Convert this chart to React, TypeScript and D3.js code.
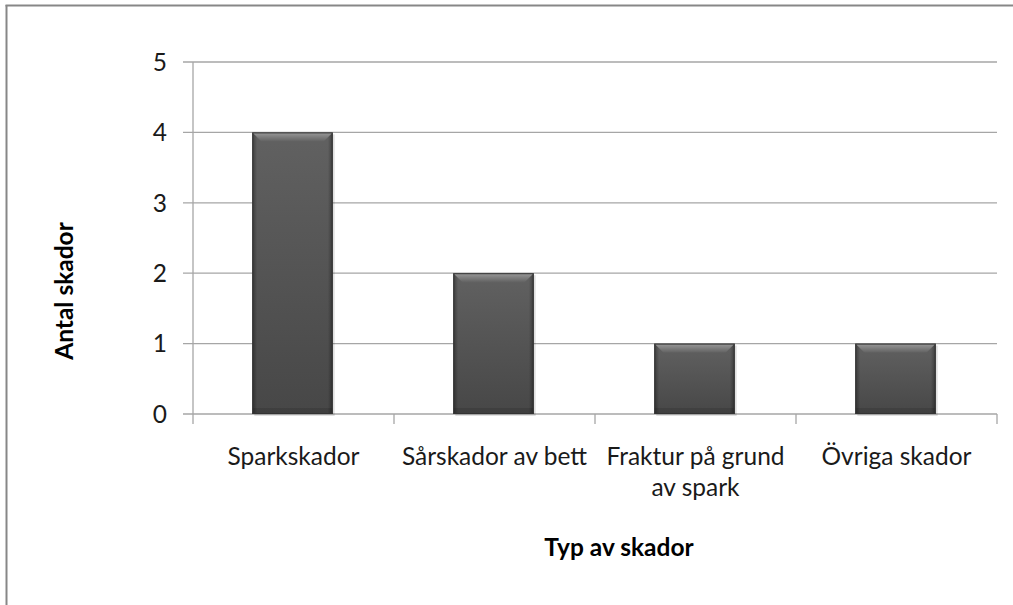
import React from "react";
import * as d3 from "d3";

// injury types and counts
const categories = ["Sparkskador", "Sårskador av bett", "Fraktur på grund av spark", "Övriga skador"];
const labelLines = [["Sparkskador"], ["Sårskador av bett"], ["Fraktur på grund", "av spark"], ["Övriga skador"]];
const counts = [4, 2, 1, 1];
const yTicks = [0, 1, 2, 3, 4, 5];

const W = 1013, H = 605;
const margin = { left: 193, right: 16, top: 62, bottom: 191 };
const FONT = "Lato, 'Open Sans', sans-serif";
const FS = 24.5;

export default function App() {
  const x = d3.scaleBand().domain(categories).range([margin.left, W - margin.right]).paddingInner(0).paddingOuter(0);
  const y = d3.scaleLinear().domain([0, 5]).range([H - margin.bottom, margin.top]);
  const bw = x.bandwidth() * 0.4;
  const y0 = y(0);

  return (
    <svg width={W} height={H} style={{ position: "absolute", left: 0, top: 0, background: "#fff" }}>
      <defs>
        <linearGradient id="body" x1="0" y1="0" x2="0" y2="1">
          <stop offset="0" stopColor="#616161" />
          <stop offset="1" stopColor="#474747" />
        </linearGradient>
        <linearGradient id="sides" x1="0" y1="0" x2="1" y2="0">
          <stop offset="0" stopColor="#000" stopOpacity="0.35" />
          <stop offset="0.06" stopColor="#000" stopOpacity="0" />
          <stop offset="0.94" stopColor="#000" stopOpacity="0" />
          <stop offset="1" stopColor="#000" stopOpacity="0.35" />
        </linearGradient>
        <linearGradient id="bevel" x1="0" y1="0" x2="0" y2="1">
          <stop offset="0" stopColor="#9a9a9a" />
          <stop offset="1" stopColor="#626262" />
        </linearGradient>
      </defs>

      {/* outer frame, cropped on right and bottom */}
      <line x1={6.5} y1={5} x2={6.5} y2={H} stroke="#878787" strokeWidth={2} />
      <line x1={5.5} y1={5.5} x2={W} y2={5.5} stroke="#878787" strokeWidth={2} />

      {/* gridlines */}
      {yTicks.map(t => (
        <line key={"g" + t} x1={margin.left - 10} x2={W - margin.right} y1={y(t)} y2={y(t)} stroke="#a6a6a6" strokeWidth={1.3} />
      ))}
      {/* y axis */}
      <line x1={margin.left} x2={margin.left} y1={margin.top} y2={y0 + 10} stroke="#a6a6a6" strokeWidth={1.3} />
      {/* x ticks */}
      {categories.map((c, i) => (
        <line key={"t" + i} x1={(x(c) as number) + x.bandwidth()} x2={(x(c) as number) + x.bandwidth()} y1={y0} y2={y0 + 10} stroke="#a6a6a6" strokeWidth={1.3} />
      ))}

      {/* y tick labels */}
      {yTicks.map(t => (
        <text key={"l" + t} x={167} y={y(t)} dy="0.36em" textAnchor="end" fontFamily={FONT} fontSize={FS} fill="#1a1a1a">{t}</text>
      ))}

      {/* bars */}
      {categories.map((c, i) => {
        const cx = (x(c) as number) + x.bandwidth() / 2 - 1;
        const x0 = cx - bw / 2, top = y(counts[i]);
        const h = y0 - top;
        const bev = 9;
        return (
          <g key={"b" + i}>
            <rect x={x0 + 2} y={top + 2} width={bw} height={h} fill="#000" opacity={0.12} />
            <rect x={x0} y={top} width={bw} height={h} fill="url(#body)" />
            <rect x={x0} y={top} width={bw} height={h} fill="url(#sides)" />
            <polygon points={`${x0},${top} ${x0 + bw},${top} ${x0 + bw - bev},${top + bev} ${x0 + bev},${top + bev}`} fill="url(#bevel)" />
            <rect x={x0} y={h - 6 + top} width={bw} height={6} fill="#000" opacity={0.12} />
            <rect x={x0 + 0.5} y={top + 0.5} width={bw - 1} height={h - 1} fill="none" stroke="#333" strokeWidth={1} />
          </g>
        );
      })}

      {/* category labels */}
      {categories.map((c, i) => (
        <text key={"c" + i} x={(x(c) as number) + x.bandwidth() / 2} y={465} textAnchor="middle" fontFamily={FONT} fontSize={FS} fill="#1a1a1a">
          {labelLines[i].map((ln, j) => (
            <tspan key={j} x={(x(c) as number) + x.bandwidth() / 2} dy={j === 0 ? 0 : 31}>{ln}</tspan>
          ))}
        </text>
      ))}

      {/* axis titles */}
      <text x={619} y={556} textAnchor="middle" fontFamily={FONT} fontSize={FS} fontWeight="bold" fill="#000">Typ av skador</text>
      <text transform={`translate(73,291) rotate(-90)`} textAnchor="middle" fontFamily={FONT} fontSize={FS} fontWeight="bold" fill="#000">Antal skador</text>
    </svg>
  );
}
